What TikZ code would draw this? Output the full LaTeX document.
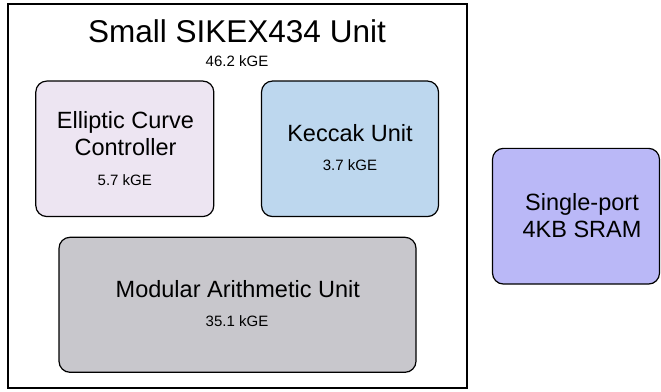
\documentclass[tikz,border=0pt]{standalone}
\usepackage{fontspec}
\setmainfont{Liberation Sans}
\definecolor{ecfill}{RGB}{237,229,242}
\definecolor{keccakfill}{RGB}{189,215,238}
\definecolor{modfill}{RGB}{200,199,204}
\definecolor{sramfill}{RGB}{186,184,247}
\tikzset{
	block/.style={draw=black, line width=1.2pt, rounded corners=11pt, inner sep=0pt},
	blocktitle/.style={anchor=base, font=\fontsize{23.5}{26}\selectfont},
	gates/.style={anchor=base, font=\fontsize{15}{17}\selectfont},
}
\begin{document}
\begin{tikzpicture}[x=1pt,y=-1pt]
		\useasboundingbox (0,0) rectangle (661,391);
		% outer unit
		\node[draw, line width=2.4pt, inner sep=0pt, minimum width=459pt, minimum height=384pt] (sike) at (237.2,196) {};
		\node[anchor=base, font=\fontsize{31.5}{34}\selectfont] (sikename) at (237,42.7) {Small SIKEX434 Unit};
		\node[gates] (sikegates) at (237,66.7) {46.2 kGE};
		% sub-blocks
		\node[block, fill=ecfill, minimum width=178pt, minimum height=135.5pt] (ec) at (124.8,148.8) {};
		\node[blocktitle] (ecname1) at (125.5,128) {Elliptic Curve};
		\node[blocktitle] (ecname2) at (125.5,155.7) {Controller};
		\node[gates] (ecgates) at (124.8,185) {5.7 kGE};
		\node[block, fill=keccakfill, minimum width=177pt, minimum height=135.5pt] (keccak) at (350,148.8) {};
		\node[blocktitle] (keccakname) at (350,141.7) {Keccak Unit};
		\node[gates] (keccakgates) at (350,170.7) {3.7 kGE};
		\node[block, fill=modfill, minimum width=357pt, minimum height=135pt] (mau) at (237.5,304.8) {};
		\node[blocktitle] (mauname) at (237.8,297.7) {Modular Arithmetic Unit};
		\node[gates] (maugates) at (237,326.7) {35.1 kGE};
		% memory
		\node[block, fill=sramfill, minimum width=167pt, minimum height=135.7pt] (sram) at (576,216.2) {};
		\node[blocktitle] (sramname1) at (582,210.7) {Single-port};
		\node[blocktitle] (sramname2) at (582,237) {4KB SRAM};
	\end{tikzpicture}
\end{document}
